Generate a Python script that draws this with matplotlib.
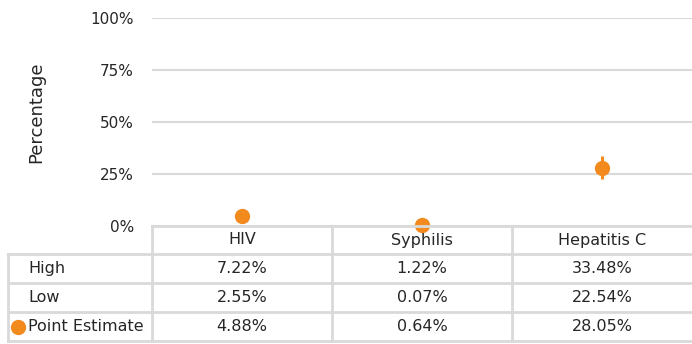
import matplotlib

matplotlib.use("Agg")

import matplotlib.pyplot as plt
import matplotlib.transforms as mtransforms
from matplotlib.lines import Line2D

# Prevalence estimates per infection (percent)
categories = ["HIV", "Syphilis", "Hepatitis C"]
high = [7.22, 1.22, 33.48]
low = [2.55, 0.07, 22.54]
point_estimate = [4.88, 0.64, 28.05]
row_names = ["High", "Low", "Point Estimate"]
y_ticks = [0, 25, 50, 75, 100]

ORANGE = "#F28A1E"
GRID = "#D9D9D9"
TEXT = "#262626"
FS = 11.5

plt.rcParams["font.family"] = ["DejaVu Sans"]

W, H = 692, 344
fig = plt.figure(figsize=(W / 100, H / 100), dpi=100)
ax = fig.add_axes([152 / W, 1 - 226 / H, (692 - 152) / W, (226 - 18) / H])

x = list(range(len(categories)))
yerr_low = [p - l for p, l in zip(point_estimate, low)]
yerr_high = [h - p for h, p in zip(high, point_estimate)]
ax.errorbar(x, point_estimate, yerr=[yerr_low, yerr_high], fmt="o",
            color=ORANGE, ecolor=ORANGE, elinewidth=2.2, capsize=0,
            markersize=10, zorder=3, clip_on=False)

ax.set_xlim(-0.5, len(categories) - 0.5)
ax.set_ylim(0, 100)
ax.set_yticks(y_ticks)
ax.set_yticklabels([f"{t}%" for t in y_ticks], fontsize=11, color=TEXT)
ax.set_xticks([])
ax.tick_params(axis="y", length=0, pad=13)
ax.yaxis.grid(True, color=GRID, linewidth=1.5)
ax.set_axisbelow(True)
for side in ax.spines.values():
    side.set_visible(False)
ax.set_ylabel("Percentage", fontsize=13, color=TEXT)
ax.yaxis.set_label_coords(-0.198, 0.548)

# Data table under the plot: x in category units, y in figure pixels
trans = mtransforms.blended_transform_factory(ax.transData, fig.transFigure)
col_w = (692 - 152) / len(categories)
label_left = -0.5 - (152 - 8) / col_w
row_edges = [226, 254, 283, 312, 341]
fy = [1 - r / H for r in row_edges]


def hline(x0, x1, y):
    fig.add_artist(Line2D([x0, x1], [y, y], transform=trans,
                          color=GRID, linewidth=2, clip_on=False, zorder=4))


def vline(xv, y0, y1):
    fig.add_artist(Line2D([xv, xv], [y0, y1], transform=trans,
                          color=GRID, linewidth=2, clip_on=False, zorder=4))


right = len(categories) - 0.5
hline(-0.5, right, fy[0])
for yy in fy[1:]:
    hline(label_left, right, yy)
for b in [-0.5, 0.5, 1.5]:
    vline(b, fy[0], fy[-1])
vline(label_left, fy[1], fy[-1])

for i, name in enumerate(categories):
    fig.text(i, (fy[0] + fy[1]) / 2, name, transform=trans, ha="center",
             va="center", fontsize=FS, color=TEXT)

table_rows = [high, low, point_estimate]
text_x = label_left + 20 / col_w
for r, (rname, vals) in enumerate(zip(row_names, table_rows)):
    yc = (fy[r + 1] + fy[r + 2]) / 2
    if rname == "Point Estimate":
        fig.add_artist(Line2D([label_left + 10 / col_w], [yc], transform=trans,
                              marker="o", markersize=10, color=ORANGE,
                              linestyle="none"))
    fig.text(text_x, yc, rname, transform=trans, ha="left", va="center",
             fontsize=FS, color=TEXT)
    for i, v in enumerate(vals):
        fig.text(i, yc, f"{v:.2f}%", transform=trans, ha="center",
                 va="center", fontsize=FS, color=TEXT)

fig.savefig("out.png", dpi=100)
